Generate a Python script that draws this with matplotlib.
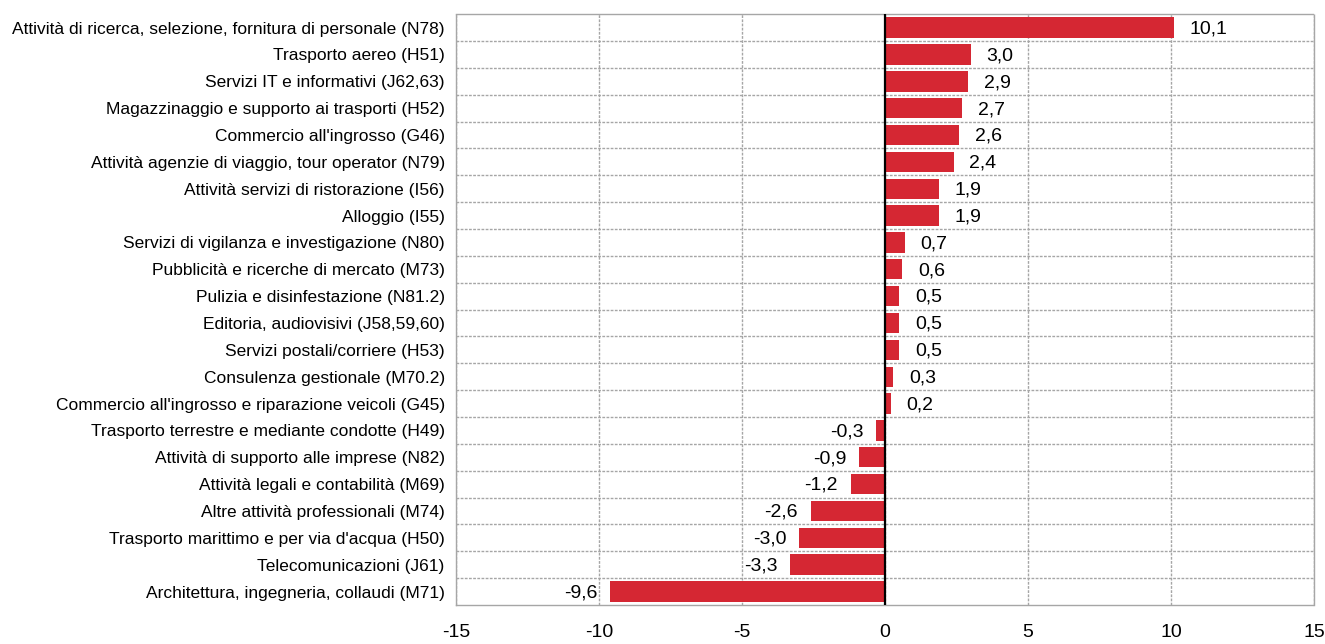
import matplotlib
matplotlib.use("Agg")
import matplotlib.pyplot as plt
from matplotlib.ticker import FixedLocator
from matplotlib import font_manager
import numpy as np

categories = [
    "Attività di ricerca, selezione, fornitura di personale (N78)",
    "Trasporto aereo (H51)",
    "Servizi IT e informativi (J62,63)",
    "Magazzinaggio e supporto ai trasporti (H52)",
    "Commercio all'ingrosso (G46)",
    "Attività agenzie di viaggio, tour operator (N79)",
    "Attività servizi di ristorazione (I56)",
    "Alloggio (I55)",
    "Servizi di vigilanza e investigazione (N80)",
    "Pubblicità e ricerche di mercato (M73)",
    "Pulizia e disinfestazione (N81.2)",
    "Editoria, audiovisivi (J58,59,60)",
    "Servizi postali/corriere (H53)",
    "Consulenza gestionale (M70.2)",
    "Commercio all'ingrosso e riparazione veicoli (G45)",
    "Trasporto terrestre e mediante condotte (H49)",
    "Attività di supporto alle imprese (N82)",
    "Attività legali e contabilità (M69)",
    "Altre attività professionali (M74)",
    "Trasporto marittimo e per via d'acqua (H50)",
    "Telecomunicazioni (J61)",
    "Architettura, ingegneria, collaudi (M71)",
]
values = [10.1, 3.0, 2.9, 2.7, 2.6, 2.4, 1.9, 1.9, 0.7, 0.6, 0.5, 0.5, 0.5, 0.3, 0.2,
          -0.3, -0.9, -1.2, -2.6, -3.0, -3.3, -9.6]
xticks = [-15, -10, -5, 0, 5, 10, 15]

installed = {f.name for f in font_manager.fontManager.ttflist}
fams = [f for f in ['Liberation Sans Narrow', 'Liberation Sans'] if f in installed] + ['DejaVu Sans']
plt.rcParams['font.family'] = fams

fig = plt.figure(figsize=(13.25, 6.44), dpi=100)
ax = fig.add_axes([0.344, 0.0606, 0.6477, 0.9174])

n = len(categories)
y = np.arange(n)
ax.barh(y, values, height=0.76, color='#D52733', zorder=3)
ax.set_ylim(n - 0.5, -0.5)
ax.set_xlim(-15, 15)

ax.set_yticks(y)
ax.set_yticklabels(categories, fontsize=12.5)
ax.tick_params(axis='y', length=0, pad=8)
ax.set_xticks(xticks)
ax.set_xticklabels([str(t) for t in xticks], fontsize=14)
ax.tick_params(axis='x', length=0, pad=14)

ax.yaxis.set_minor_locator(FixedLocator(np.arange(0.5, n - 0.5, 1)))
ax.tick_params(axis='y', which='minor', length=0)
ax.grid(axis='y', which='minor', color='#A6A6A6', linestyle=(0, (2, 1)), linewidth=1, zorder=0)
ax.grid(axis='x', which='major', color='#A6A6A6', linestyle=(0, (2, 1)), linewidth=1, zorder=0)
for s in ax.spines.values():
    s.set_color('#A6A6A6')
    s.set_linestyle((0, (2, 1)))
    s.set_linewidth(1)
ax.axvline(0, color='black', linewidth=1.6, zorder=4)

for yi, v in zip(y, values):
    lab = f"{v:.1f}".replace('.', ',')
    if v >= 0:
        ax.text(v + 0.55, yi + 0.05, lab, ha='left', va='center', fontsize=14, zorder=5)
    else:
        ax.text(v - 0.45, yi + 0.05, lab, ha='right', va='center', fontsize=14, zorder=5)

fig.savefig('out.png', dpi=100)
